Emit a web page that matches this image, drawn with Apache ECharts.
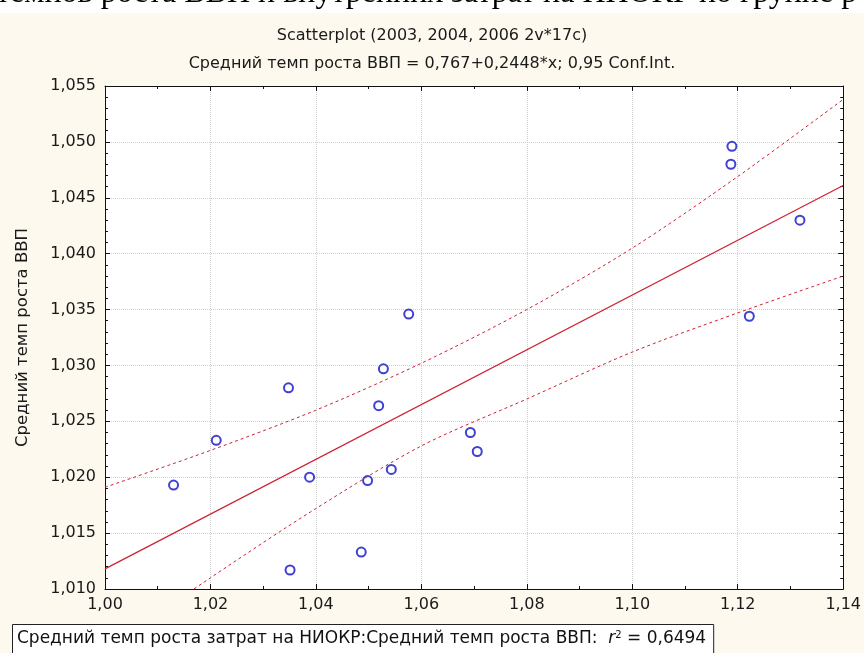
<!DOCTYPE html>
<html>
<head>
<meta charset="utf-8">
<script src="https://cdn.jsdelivr.net/npm/echarts@6/dist/echarts.min.js"></script>
<style>
  html, body { margin: 0; padding: 0; background: #fdf9ee; }
  #main { width: 864px; height: 653px; }
</style>
</head>
<body>
<div id="main"></div>
<script>
// points
const niokrX = [1.0130, 1.0211, 1.0348, 1.0351, 1.0388, 1.0486, 1.0498, 1.0519, 1.0528,
                1.0543, 1.0576, 1.0693, 1.0706, 1.1187, 1.1189, 1.1222, 1.1318]
const gdpY = [1.0193, 1.0233, 1.0280, 1.0117, 1.0200, 1.0133, 1.0197, 1.0264, 1.0297,
              1.0207, 1.0346, 1.0240, 1.0223, 1.0480, 1.0496, 1.0344, 1.0430]

// regression line ends
const fitX = [1.00, 1.14]
const fitY = [1.0118, 1.0461]

// 0.95 conf. band read at each x tick
const bandX = [1.00, 1.02, 1.04, 1.06, 1.08, 1.10, 1.12, 1.14]
const upperBand = [1.0191, 1.0224, 1.0260, 1.0302, 1.0350, 1.0405, 1.0469, 1.0538]
const lowerBand = [1.0045, 1.0110, 1.0172, 1.0228, 1.0270, 1.0312, 1.0347, 1.0380]

const xTicks = { min: 1.00, max: 1.14, interval: 0.02 }
const yTicks = { min: 1.010, max: 1.055, interval: 0.005 }

const font = '"DejaVu Sans", Arial, sans-serif'
const red = '#cc2233'

const zip = (a, b) => a.map((v, i) => [v, b[i]])
const comma = (v, d) => v.toFixed(d).replace('.', ',')

const frameX = (pos, labels) => ({
  type: 'value', position: pos,
  min: xTicks.min, max: xTicks.max, interval: xTicks.interval,
  axisLine: { show: true, onZero: false, lineStyle: { color: '#111', width: 1 } },
  axisTick: { show: true, inside: true, length: 5, lineStyle: { color: '#111' } },
  minorTick: { show: true, splitNumber: 2, length: 3, lineStyle: { color: '#111' } },
  axisLabel: labels ? { show: true, margin: 8, color: '#1a1a1a', fontSize: 16, fontFamily: font,
    formatter: v => comma(v, 2) } : { show: false },
  splitLine: { show: labels, lineStyle: { color: '#cfcfcf', type: 'dotted', width: 1 } }
})

const frameY = (pos, labels) => ({
  type: 'value', position: pos,
  min: yTicks.min, max: yTicks.max, interval: yTicks.interval,
  axisLine: { show: true, onZero: false, lineStyle: { color: '#111', width: 1 } },
  axisTick: { show: true, inside: true, length: 5, lineStyle: { color: '#111' } },
  minorTick: { show: true, splitNumber: 5, length: 3, lineStyle: { color: '#111' } },
  axisLabel: labels ? { show: true, margin: 9, color: '#1a1a1a', fontSize: 16, fontFamily: font,
    formatter: v => comma(v, 3) } : { show: false },
  splitLine: { show: labels, lineStyle: { color: '#cfcfcf', type: 'dotted', width: 1 } },
  name: labels ? 'Средний темп роста ВВП' : '',
  nameLocation: 'middle', nameGap: 74, nameRotate: 90,
  nameTextStyle: { color: '#1a1a1a', fontSize: 16.5, fontFamily: font }
})

const chart = echarts.init(document.getElementById('main'))
chart.setOption({
  backgroundColor: '#fdf9ee',
  animation: false,
  title: [
    { text: 'Scatterplot (2003, 2004, 2006 2v*17c)', left: 'center', top: 23,
      textStyle: { fontSize: 16, fontWeight: 'normal', color: '#1a1a1a', fontFamily: font } },
    { text: 'Средний темп роста ВВП = 0,767+0,2448*x; 0,95 Conf.Int.', left: 'center', top: 51,
      textStyle: { fontSize: 16, fontWeight: 'normal', color: '#1a1a1a', fontFamily: font } }
  ],
  grid: { left: 105, top: 86, right: 18, bottom: 64, show: true, backgroundColor: '#fff',
    borderWidth: 0 },
  xAxis: [frameX('bottom', true), frameX('top', false)],
  yAxis: [frameY('left', true), frameY('right', false)],
  series: [
    { type: 'line', data: zip(bandX, upperBand), smooth: 0.3, symbol: 'none', clip: true,
      lineStyle: { color: red, width: 1, type: [3, 3] } },
    { type: 'line', data: zip(bandX, lowerBand), smooth: 0.3, symbol: 'none', clip: true,
      lineStyle: { color: red, width: 1, type: [3, 3] } },
    { type: 'line', data: zip(fitX, fitY), symbol: 'none',
      lineStyle: { color: red, width: 1.2 } },
    { type: 'scatter', data: zip(niokrX, gdpY), symbol: 'circle', symbolSize: 9,
      itemStyle: { color: '#fff', borderColor: '#1010c8', borderWidth: 2 } }
  ]
})

// legend box sized to its text
const legendText = 'Средний темп роста затрат на НИОКР:Средний темп роста ВВП:  {s|r}{p|2} = 0,6494'
const legendStyle = { fontSize: 17, fontFamily: font, fill: '#111',
  rich: { s: { fontSize: 17, fontFamily: font, fill: '#111', fontStyle: 'italic' },
          p: { fontSize: 10, fontFamily: font, fill: '#111', verticalAlign: 'top', padding: [0, 0, 8, 0] } } }
const probe = new echarts.graphic.Text({ style: Object.assign({ text: legendText }, legendStyle) })
const legendW = probe.getBoundingRect().width

chart.setOption({
  graphic: [
    { type: 'rect', left: 0, top: 0, shape: { width: 864, height: 13 }, style: { fill: '#fff' }, silent: true },
    { type: 'text', left: -4, top: -22,
      style: { text: 'темпов роста ВВП и внутренних затрат на НИОКР по группе р',
        font: '32px "Liberation Serif", "Times New Roman", serif', fill: '#000' } },
    { type: 'rect', left: 0, top: 13, shape: { width: 864, height: 1 }, style: { fill: '#fdf9ee' } },
    { type: 'rect', left: 12, top: 624, shape: { width: legendW + 12, height: 40 },
      style: { fill: '#fff', stroke: '#222', lineWidth: 1 } },
    { type: 'text', left: 17, top: 630, style: Object.assign({ text: legendText }, legendStyle) }
  ]
})
</script>
</body>
</html>
